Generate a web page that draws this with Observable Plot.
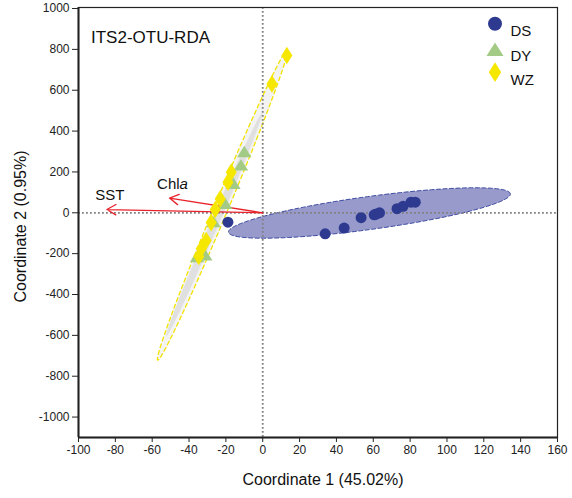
<!DOCTYPE html>
<html>
<head>
<meta charset="utf-8">
<script src="https://cdn.jsdelivr.net/npm/d3@7"></script>
<script src="https://cdn.jsdelivr.net/npm/@observablehq/plot@0.6"></script>
<style>
  html, body { margin: 0; padding: 0; background: #fff; }
  #chart svg { display: block; }
</style>
</head>
<body>
<div id="chart"></div>
<script>
// Site scores on RDA axis 1 and 2, one pair of arrays per group
const dsX = [-18.9, 33.9, 44.2, 53.4, 60.5, 61.6, 63.4, 72.9, 76.2, 80.5, 82.8];
const dsY = [-46, -103, -75, -24, -10, -6, 0, 20, 32, 52, 52];
const dyX = [-10.0, -11.8, -15.9, -20.4, -26.7, -31.2, -35.7];
const dyY = [297, 232, 142, 44, -46, -209, -217];
const wzX = [13.1, 5.0, -17.1, -18.9, -23.1, -25.8, -28.0, -30.7, -33.4, -34.7];
const wzY = [770, 631, 199, 150, 68, 16, -48, -136, -176, -214];

// Environmental vectors (biplot arrows from the origin)
const envNames = ["SST", "Chla"];
const envX = [-84.6, -50.6];
const envY = [16, 72];

// Group ellipses: centre, end of the semi-major axis, end of the semi-minor axis
const ellGroup = ["WZ", "DY", "DS"];
const ellCx = [-21.85, -26.3, 57.9];
const ellCy = [38, -57, -1];
const ellAx = [13.3, -0.27, 134.4];
const ellAy = [797, 490, 93];
const ellBx = [-18.4, -24.3, 56.8];
const ellBy = [26, -65, 79];

// Legend entries and axis ticks
const legendGroups = ["DS", "DY", "WZ"];
const xTicks = [-100, -80, -60, -40, -20, 0, 20, 40, 60, 80, 100, 120, 140, 160];
const yTicks = [-1000, -800, -600, -400, -200, 0, 200, 400, 600, 800, 1000];

// Tall diamond and flat triangle markers
const tallDiamond = {
  draw(ctx, size) {
    const r = Math.sqrt(size / Math.PI), h = r * 1.6;
    ctx.moveTo(0, -h); ctx.lineTo(r, 0); ctx.lineTo(0, h); ctx.lineTo(-r, 0); ctx.closePath();
  }
};
const flatTriangle = {
  draw(ctx, size) {
    const r = Math.sqrt(size / Math.PI), w = r * 1.2, h = r * 1.9;
    ctx.moveTo(0, -h * 0.55); ctx.lineTo(w, h * 0.45); ctx.lineTo(-w, h * 0.45); ctx.closePath();
  }
};

const colors = { DS: "#2d3a8f", DY: "#a3cb86", WZ: "#f6e700" };
const symbols = { DS: "circle", DY: flatTriangle, WZ: tallDiamond };

const toPoints = (xs, ys) => xs.map((x, i) => ({ x, y: ys[i] }));
const ds = toPoints(dsX, dsY), dy = toPoints(dyX, dyY), wz = toPoints(wzX, wzY);

// Outline of an ellipse given by conjugate semi-axes (in data units)
function ellipse(i) {
  const n = 160, out = [];
  for (let k = 0; k < n; ++k) {
    const t = (2 * Math.PI * k) / n, c = Math.cos(t), s = Math.sin(t);
    out.push({
      x: ellCx[i] + c * (ellAx[i] - ellCx[i]) + s * (ellBx[i] - ellCx[i]),
      y: ellCy[i] + c * (ellAy[i] - ellCy[i]) + s * (ellBy[i] - ellCy[i])
    });
  }
  return out;
}
const ellStyle = {
  WZ: { fill: "#f3f3f3", stroke: "#f3e300", strokeWidth: 1.3, strokeDasharray: "4,3" },
  DY: { fill: "#e0e0e0", stroke: "none" },
  DS: { fill: "#989acc", stroke: "#3e4ca0", strokeWidth: 1, strokeDasharray: "4,2.5" }
};
const ellipseMarks = ellGroup.map((g, i) =>
  Plot.line(ellipse(i), { x: "x", y: "y", curve: "linear-closed", ...ellStyle[g] })
);

const fmt = d => String(d);
const envIdx = envNames.map((_, i) => i);

const legendMarks = legendGroups.flatMap((g, i) => [
  Plot.dot([g], {
    frameAnchor: "top-right", dx: -62.5, dy: [16.3, 42.5, 64.7][i],
    r: g === "DS" ? 7 : g === "DY" ? 7.1 : 6.2,
    symbol: symbols[g], fill: colors[g], stroke: "none"
  }),
  Plot.text([g], {
    frameAnchor: "top-right", dx: -47, dy: [18, 42.5, 66.5][i], text: d => d,
    textAnchor: "start", fontSize: 15, fill: "#111"
  })
]);

const chart = Plot.plot({
  width: 572,
  height: 498,
  marginLeft: 78,
  marginRight: 15,
  marginTop: 7,
  marginBottom: 61,
  style: { fontFamily: "'Liberation Sans', Arial, sans-serif", fontSize: "12px", color: "#222", background: "#fff" },
  x: { domain: [-100, 160], axis: null },
  y: { domain: [-1100, 1005], axis: null },
  marks: [
    ...ellipseMarks,
    Plot.ruleX([0], { stroke: "#808080", strokeWidth: 1.8, strokeDasharray: "1.8,2.2" }),
    Plot.ruleY([0], { stroke: "#808080", strokeWidth: 1.8, strokeDasharray: "1.8,2.2" }),
    Plot.arrow(envIdx, {
      x1: () => 0, y1: () => 0, x2: i => envX[i], y2: i => envY[i],
      stroke: "#e8232b", strokeWidth: 1.3, headLength: 12, headAngle: 60
    }),
    Plot.dot(dy, { x: "x", y: "y", r: 6, symbol: flatTriangle, fill: colors.DY, stroke: "none" }),
    Plot.dot(wz, { x: "x", y: "y", r: 5.5, symbol: tallDiamond, fill: colors.WZ, stroke: "none" }),
    Plot.dot(ds, { x: "x", y: "y", r: 5.5, fill: colors.DS, stroke: "none" }),
    Plot.text(envIdx, {
      x: i => envX[i], y: i => envY[i], text: i => envNames[i],
      dx: 3, dy: -14, fontSize: 15, fill: "#111"
    }),
    Plot.text(["ITS2-OTU-RDA"], {
      frameAnchor: "top-left", dx: 12.5, dy: 23.5, text: d => d,
      textAnchor: "start", fontSize: 17, fill: "#111"
    }),
    ...legendMarks,
    Plot.frame({ stroke: "#222", strokeWidth: 1.2 }),
    Plot.ruleX([-100], { stroke: "#222", strokeWidth: 2 }),
    Plot.ruleY([-1100], { stroke: "#222", strokeWidth: 2 }),
    Plot.axisX(xTicks, { tickSize: 5, tickPadding: 3, tickFormat: fmt, fontSize: 12, label: null }),
    Plot.axisY(yTicks, { tickSize: 6, tickPadding: 3, tickFormat: fmt, fontSize: 12, label: null }),
    Plot.text(["Coordinate 1 (45.02%)"], {
      frameAnchor: "bottom", dx: 5, dy: 47, text: d => d, fontSize: 16, fill: "#111"
    }),
    Plot.text(["Coordinate 2 (0.95%)"], {
      frameAnchor: "left", textAnchor: "middle", dx: -58, dy: 4, rotate: -90,
      text: d => d, fontSize: 16, fill: "#111"
    })
  ]
});

// Italicise the trailing "a" of Chla
chart.querySelectorAll("text").forEach(t => {
  if (t.textContent === "Chla") {
    t.textContent = "Chl";
    const ts = document.createElementNS("http://www.w3.org/2000/svg", "tspan");
    ts.setAttribute("font-style", "italic");
    ts.textContent = "a";
    t.appendChild(ts);
  }
});

document.getElementById("chart").appendChild(chart);
</script>
</body>
</html>
